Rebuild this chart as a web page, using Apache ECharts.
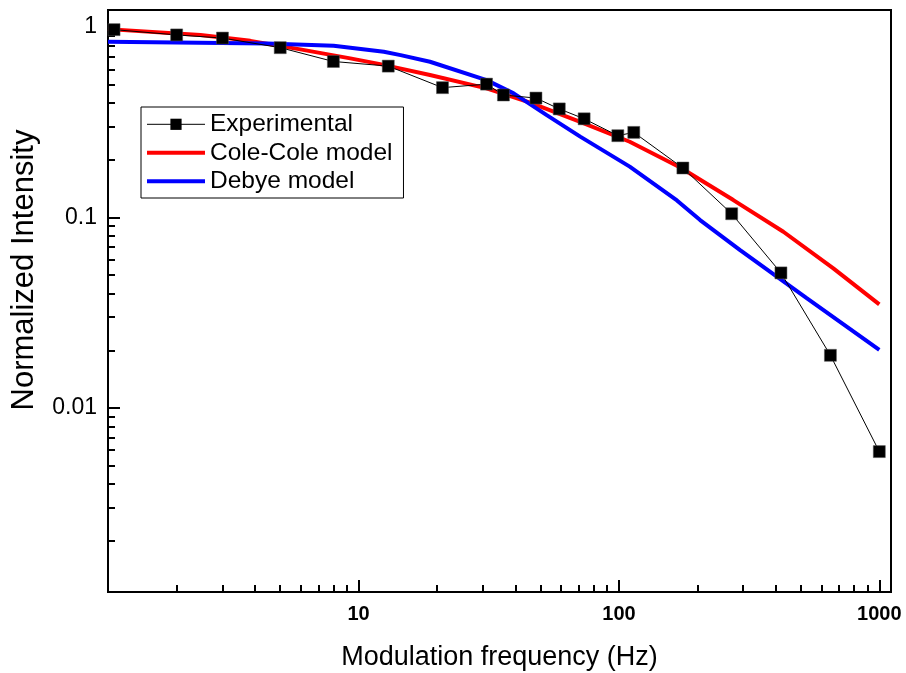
<!DOCTYPE html>
<html><head><meta charset="utf-8">
<script src="https://cdn.jsdelivr.net/npm/echarts@6/dist/echarts.min.js"></script>
<style>html,body{margin:0;padding:0;background:#fff}#c{width:906px;height:673px}</style>
</head><body><div id="c"></div>
<script>
// ---- data ----
const expFreq = [1.15, 2, 3, 5, 8, 13, 21, 31, 36, 48, 59, 73.5, 99, 114, 176, 271, 419, 649, 1000];
const expIntensity = [0.97, 0.91, 0.876, 0.78, 0.66, 0.624, 0.481, 0.502, 0.44, 0.424, 0.372, 0.33, 0.269, 0.28, 0.182, 0.1047, 0.0512, 0.0189, 0.0059];

const coleFreq = [1.09, 2.47, 3.84, 5.97, 9.29, 12.1, 18.8, 31, 45.6, 71, 110, 172, 275, 428, 666, 1000];
const coleIntensity = [0.976, 0.908, 0.847, 0.764, 0.685, 0.639, 0.56, 0.477, 0.401, 0.318, 0.25, 0.183, 0.1235, 0.0842, 0.0541, 0.035];

const debyeFreq = [1.09, 4.45, 8.02, 12.5, 14.5, 18.8, 31, 39.4, 52.8, 71, 110, 167, 205, 292, 526, 1000];
const debyeIntensity = [0.837, 0.821, 0.798, 0.742, 0.713, 0.658, 0.527, 0.449, 0.345, 0.266, 0.185, 0.123, 0.097, 0.0675, 0.0377, 0.0202];

const seriesNames = ['Experimental', 'Cole-Cole model', 'Debye model'];
const xTitle = 'Modulation frequency (Hz)';
const yTitle = 'Normalized Intensity';

const xRange = [1.09, 1109];
const yRange = [0.00108, 1.23];
const xMajorTicks = [10, 100, 1000];
const xTickLabels = ['10', '100', '1000'];
const xMinorTicks = [2,3,4,5,6,7,8,9,20,30,40,50,60,70,80,90,200,300,400,500,600,700,800,900];
const yMajorTicks = [0.01, 0.1, 1];
const yTickLabels = ['0.01', '0.1', '1'];
const yMinorTicks = [0.002,0.003,0.004,0.005,0.006,0.007,0.008,0.009,0.02,0.03,0.04,0.05,0.06,0.07,0.08,0.09,0.2,0.3,0.4,0.5,0.6,0.7,0.8,0.9];

// ---- chart ----
const FONT = 'Liberation Sans, Arial, Helvetica, sans-serif';
const L = Math.log10;
function pairs(xs, ys) { return xs.map((x, i) => [x, ys[i]]); }
function labelFor(v, ticks, labels) {
  for (let i = 0; i < ticks.length; i++) if (Math.abs(L(ticks[i]) - v) < 1e-6) return labels[i];
  return '';
}
const chart = echarts.init(document.getElementById('c'), null, {renderer: 'canvas'});
const hidden = {axisLine: {show: false, onZero: false}, splitLine: {show: false}, minorTick: {show: false}, minorSplitLine: {show: false}};
chart.setOption({
  animation: false,
  backgroundColor: '#fff',
  textStyle: {fontFamily: FONT},
  grid: {left: 108, right: 15, top: 10, bottom: 81, show: true, borderColor: '#000', borderWidth: 2,
         backgroundColor: 'transparent', containLabel: false, outerBoundsMode: 'none'},
  graphic: [{
    type: 'text', x: 24, y: 270, rotation: Math.PI / 2,
    style: {text: yTitle, fontSize: 31, fill: '#000', fontFamily: FONT, align: 'center', verticalAlign: 'middle'}
  }],
  legend: {
    left: 141, top: 107, orient: 'vertical',
    backgroundColor: '#fff', borderColor: '#000', borderWidth: 1, borderRadius: 0,
    padding: [4.8, 11, 4.2, 4], itemGap: 3.5, itemWidth: 58, itemHeight: 14,
    textStyle: {fontSize: 24.5, lineHeight: 24, color: '#000', fontFamily: FONT},
    data: [
      {name: seriesNames[0], itemStyle: {color: '#000', borderColor: '#000', borderWidth: 0}, lineStyle: {width: 1, color: '#000'}},
      {name: seriesNames[1], itemStyle: {opacity: 0, color: 'rgba(0,0,0,0)', borderWidth: 0}, lineStyle: {width: 4, color: '#ff0000'}},
      {name: seriesNames[2], itemStyle: {opacity: 0, color: 'rgba(0,0,0,0)', borderWidth: 0}, lineStyle: {width: 4, color: '#0000ff'}}
    ]
  },
  xAxis: [
    {type: 'log', min: xRange[0], max: xRange[1], position: 'bottom',
     axisLine: {show: true, onZero: false, lineStyle: {color: '#000', width: 2}},
     axisTick: {show: false}, axisLabel: {show: false}, splitLine: {show: false}, minorTick: {show: false},
     name: xTitle, nameLocation: 'middle', nameGap: 52,
     nameTextStyle: {fontSize: 27, color: '#000', fontFamily: FONT}},
    Object.assign({type: 'value', min: L(xRange[0]), max: L(xRange[1]), position: 'bottom',
     axisTick: {show: true, inside: true, length: 12, lineStyle: {color: '#000', width: 2}, customValues: xMajorTicks.map(L)},
     axisLabel: {show: true, customValues: xMajorTicks.map(L), formatter: v => labelFor(v, xMajorTicks, xTickLabels),
                 margin: 12, fontSize: 20, fontWeight: 'bold', color: '#000', fontFamily: FONT}}, hidden),
    Object.assign({type: 'value', min: L(xRange[0]), max: L(xRange[1]), position: 'bottom',
     axisTick: {show: true, inside: true, length: 7, lineStyle: {color: '#000', width: 2}, customValues: xMinorTicks.map(L)},
     axisLabel: {show: false}}, hidden)
  ],
  yAxis: [
    {type: 'log', min: yRange[0], max: yRange[1], position: 'left',
     axisLine: {show: true, onZero: false, lineStyle: {color: '#000', width: 2}},
     axisTick: {show: false}, axisLabel: {show: false}, splitLine: {show: false}, minorTick: {show: false}},
    Object.assign({type: 'value', min: L(yRange[0]), max: L(yRange[1]), position: 'left',
     axisTick: {show: true, inside: true, length: 12, lineStyle: {color: '#000', width: 2}, customValues: yMajorTicks.map(L)},
     axisLabel: {show: true, customValues: yMajorTicks.map(L), formatter: v => labelFor(v, yMajorTicks, yTickLabels),
                 margin: 11, fontSize: 23, color: '#000', fontFamily: FONT}}, hidden),
    Object.assign({type: 'value', min: L(yRange[0]), max: L(yRange[1]), position: 'left',
     axisTick: {show: true, inside: true, length: 7, lineStyle: {color: '#000', width: 2}, customValues: yMinorTicks.map(L)},
     axisLabel: {show: false}}, hidden)
  ],
  series: [
    {name: seriesNames[1], type: 'line', xAxisIndex: 0, yAxisIndex: 0, data: pairs(coleFreq, coleIntensity),
     showSymbol: false, symbol: 'none', smooth: false, z: 3,
     lineStyle: {color: '#ff0000', width: 4}, itemStyle: {color: '#ff0000'}},
    {name: seriesNames[2], type: 'line', xAxisIndex: 0, yAxisIndex: 0, data: pairs(debyeFreq, debyeIntensity),
     showSymbol: false, symbol: 'none', smooth: false, z: 3,
     lineStyle: {color: '#0000ff', width: 4}, itemStyle: {color: '#0000ff'}},
    {name: seriesNames[0], type: 'line', xAxisIndex: 0, yAxisIndex: 0, data: pairs(expFreq, expIntensity),
     symbol: 'rect', symbolSize: 12, z: 4,
     lineStyle: {color: '#000', width: 1}, itemStyle: {color: '#000', borderColor: '#555', borderWidth: 0.5}}
  ]
});
</script></body></html>
